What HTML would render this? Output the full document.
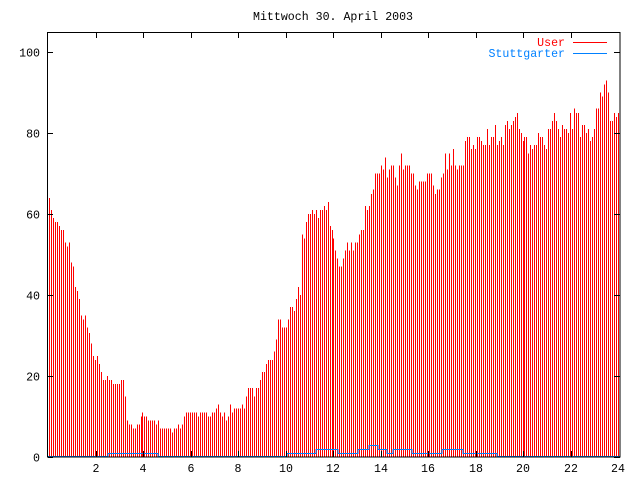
<!DOCTYPE html>
<html><head><meta charset="utf-8"><style>
html,body{margin:0;padding:0;background:#fff;width:640px;height:480px;overflow:hidden}
svg text{font-family:"Liberation Mono",monospace;font-size:11.6px}
</style></head><body>
<svg id="s" width="640" height="480" xmlns="http://www.w3.org/2000/svg" shape-rendering="crispEdges">
<rect width="640" height="480" fill="#fff"/>
<g id="bars"></g>
<path id="blue" fill="none" stroke="#0080ff" stroke-width="1"/>
<rect x="47.5" y="32.5" width="572.5" height="424.5" fill="none" stroke="#000"/>
<g id="ticks" stroke="#000"></g>
<g id="labels"></g>
<text x="253" y="20">Mittwoch 30. April 2003</text>
<text x="565" y="46" fill="#ff0000" text-anchor="end">User</text>
<line x1="573" y1="42.5" x2="607" y2="42.5" stroke="#ff0000"/>
<text x="565" y="57" fill="#0080ff" text-anchor="end">Stuttgarter</text>
<line x1="573" y1="53.5" x2="607" y2="53.5" stroke="#0080ff"/>
</svg>
<script>
var v=[67,64,61,59,58,58,57,56,56,53,52,53,48,47,42,41,39,35,34,35,32,30.6,28,25,24,25,23,21,19,19,20,19,19,18,18,18,18,19,19,15,9,8,8,7,7,8,8,10,11,10,10,9,9,9,9,8,9,7,7,7,7,7,7,6,7,7,8,7,8,10,11,11,
11,11,11,11,10,11,11,11,11,10,10,11,11,12,13,11,10,11,9,10,13,11,12,12,12,12,13,12,15,17,17,17,15,17,17,19,21,21,23,24,24,24,26,29,34,34,32,32,32,34,37,37,36,39,42,40,55,54,58,60,60,61,60,61,59,61,61,62,61,63,57,56,54,51,49,47,
47,49,51,53,51,53,51,53,53,55,56,56,62,61,62,65,66,70,70,70,72,71,74,69,71,72,72,69,67,72,75,71,72,72,72,70,70,67,66,68,68,68,68,70,70,70,67,65,66,66,69,70,75,71,75,72,76,72,71,72,72,72,78,79,79,76,77,76,79,79,78,77,77,81,77,79,79,82,77,78,79,77,82,83,81,82,83,84,85,81,
80,78,79,79,75,77,76,77,77,80,79,79,77,76,81,81,83,85,83,81,79,82,81,81,80,85,81,86,85,85,79,82,82,80,81,78,79,81,86,86,90,89,92,93,90,83,83,85,84,85];
var n=v.length,sp=(618-47)/(n-1),d="";
for(var i=0;i<n;i++){var x=47+Math.round(i*sp)+0.5;var y=(457-v[i]*4.05).toFixed(1);d+="M"+x+" 457V"+y;}
document.getElementById("bars").innerHTML='<path d="'+d+'" stroke="#ff0000" stroke-width="1" fill="none"/>';
document.getElementById("blue").setAttribute("d","M48 456.5H108V453.5H158V456.5H287V453.5H316V449.5H338V453.5H358V449.5H369V445.5H378V449.5H387V453.5H393V449.5H412V453.5H442V449.5H463V453.5H497V456.5H620");
var t="",l="";
for(var k=0;k<=100;k+=20){var y=Math.round(457-k*4.05)+0.5;t+='<line x1="48" y1="'+y+'" x2="53" y2="'+y+'"/><line x1="614" y1="'+y+'" x2="620" y2="'+y+'"/>';l+='<text x="40" y="'+(y+4)+'" text-anchor="end">'+k+'</text>';}
for(var h=2;h<=24;h+=2){var x=Math.round(48.2+h*23.75)+0.5;if(h<24)t+='<line x1="'+x+'" y1="33" x2="'+x+'" y2="38"/><line x1="'+x+'" y1="451" x2="'+x+'" y2="457"/>';l+='<text x="'+(x-0.5)+'" y="472" text-anchor="middle">'+h+'</text>';}
document.getElementById("ticks").innerHTML=t;document.getElementById("labels").innerHTML=l;
</script>
</body></html>
